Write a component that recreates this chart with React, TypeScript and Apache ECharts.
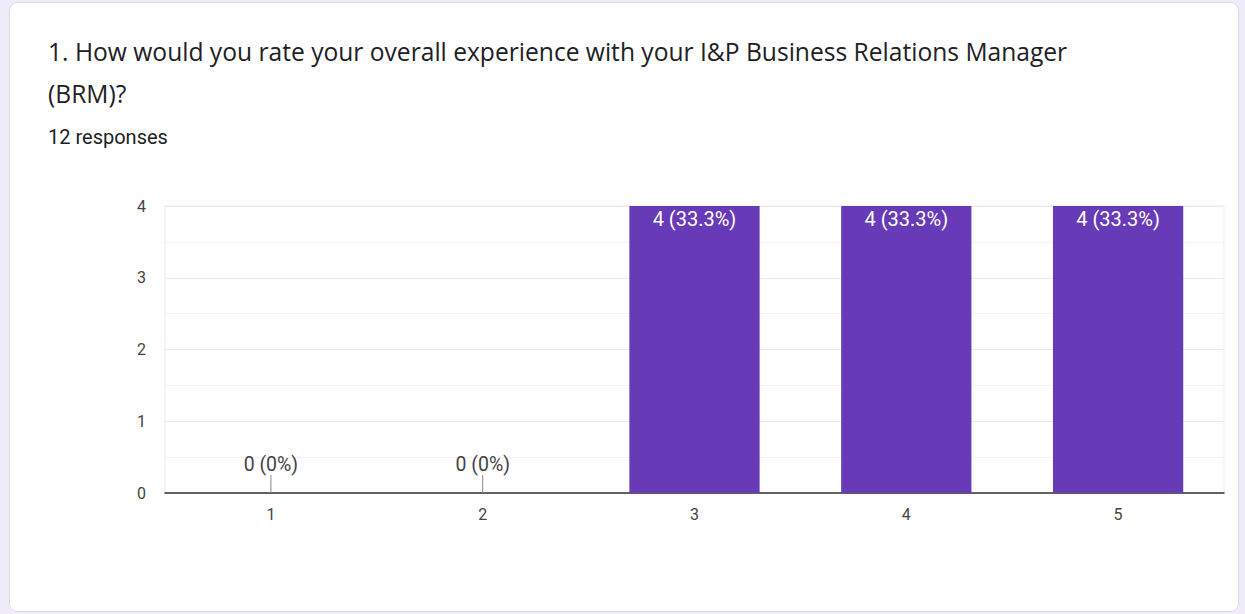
import React, { useEffect, useRef } from "react";
import * as echarts from "echarts";

const titleLines = [
  "1. How would you rate your overall experience with your I&P Business Relations Manager",
  "(BRM)?",
];
const subtitleText = "12 responses";
const categories = ["1", "2", "3", "4", "5"];
const counts = [0, 0, 4, 4, 4];
const percents = ["0%", "0%", "33.3%", "33.3%", "33.3%"];
const yTicks = [0, 1, 2, 3, 4];

export default function App() {
  const ref = useRef<HTMLDivElement>(null);
  useEffect(() => {
    if (!ref.current) return;
    const chart = echarts.init(ref.current, undefined, { renderer: "svg" });
    const labelFor = (i: number) => `${counts[i]} (${percents[i]})`;
    chart.setOption({
      animation: false,
      backgroundColor: "#f0ebf8",
      graphic: [
        {
          type: "rect",
          z: -10,
          shape: { x: 9.5, y: 2.5, width: 1229, height: 609, r: 8 },
          style: { fill: "#ffffff", stroke: "#dadce0", lineWidth: 1 },
        },
      ],
      title: [
        {
          text: titleLines.join("\n"),
          left: 48,
          top: 30,
          padding: 0,
          textStyle: {
            fontFamily: "Open Sans",
            fontSize: 24.6,
            fontWeight: "normal",
            color: "#202124",
            lineHeight: 42,
          },
        },
        {
          text: subtitleText,
          left: 48,
          top: 127,
          padding: 0,
          textStyle: {
            fontFamily: "Roboto",
            fontSize: 20,
            fontWeight: "normal",
            color: "#202124",
            lineHeight: 20,
          },
        },
      ],
      grid: {
        left: 165,
        right: 21,
        top: 206,
        bottom: 121,
        show: true,
        borderColor: "#ebebeb",
        borderWidth: 1,
        backgroundColor: "transparent",
      },
      xAxis: {
        type: "category",
        data: categories,
        axisTick: { show: false },
        axisLine: { lineStyle: { color: "#333333", width: 1.5 } },
        axisLabel: {
          color: "#444444",
          fontSize: 16,
          fontFamily: "Roboto",
          margin: 13,
        },
      },
      yAxis: {
        type: "value",
        min: 0,
        max: yTicks[yTicks.length - 1],
        interval: 1,
        axisLine: { show: false },
        axisTick: { show: false },
        axisLabel: {
          color: "#444444",
          fontSize: 16,
          fontFamily: "Roboto",
          margin: 19,
        },
        splitLine: { lineStyle: { color: "#ebebeb", width: 1 } },
        minorTick: { show: false, splitNumber: 2 },
        minorSplitLine: { show: true, lineStyle: { color: "#f3f3f3", width: 1 } },
      },
      series: [
        {
          type: "bar",
          data: counts,
          barWidth: "61.5%",
          itemStyle: { color: "#673ab7" },
          label: {
            show: true,
            position: "insideTop",
            distance: 3,
            color: "#ffffff",
            fontSize: 20,
            fontFamily: "Roboto",
            formatter: (p: any) => (counts[p.dataIndex] > 0 ? labelFor(p.dataIndex) : ""),
          },
        },
        {
          type: "custom",
          data: counts.map((v, i) => [i, v]),
          encode: { x: 0, y: 1 },
          z: 5,
          renderItem: (params: any, api: any) => {
            const v = api.value(1);
            if (v !== 0) return null;
            const idx = api.value(0);
            const pt = api.coord([idx, 0]);
            return {
              type: "group",
              children: [
                {
                  type: "line",
                  shape: { x1: pt[0], y1: pt[1], x2: pt[0], y2: pt[1] - 18 },
                  style: { stroke: "#888888", lineWidth: 1 },
                },
                {
                  type: "text",
                  x: pt[0],
                  y: pt[1] - 19,
                  style: {
                    text: labelFor(params.dataIndex),
                    fill: "#444444",
                    font: "19.5px Roboto",
                    align: "center",
                    verticalAlign: "bottom",
                  },
                },
              ],
            };
          },
        },
      ],
    });
    return () => chart.dispose();
  }, []);
  return (
    <div
      ref={ref}
      style={{ position: "absolute", left: 0, top: 0, width: 1245, height: 614 }}
    />
  );
}
